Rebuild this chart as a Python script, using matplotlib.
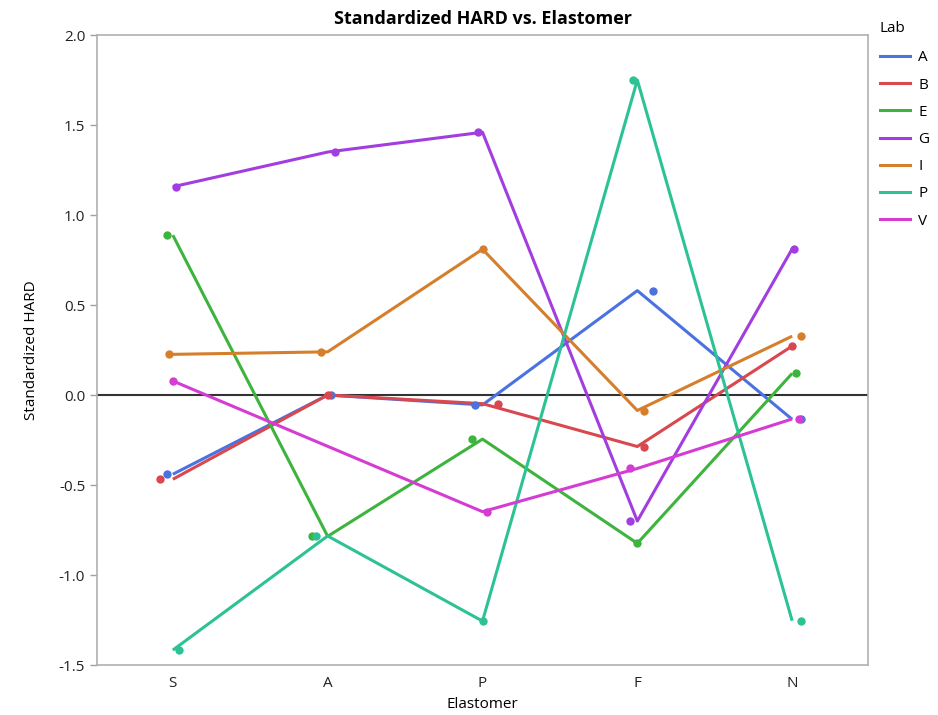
import numpy as np
import matplotlib
matplotlib.use("Agg")
import matplotlib.pyplot as plt
from matplotlib.lines import Line2D

elastomers = ["S", "A", "P", "F", "N"]
labs = ["A", "B", "E", "G", "I", "P", "V"]

lab_A = [-0.44, 0.00, -0.055, 0.58, -0.135]
lab_B = [-0.468, 0.00, -0.048, -0.286, 0.272]
lab_E = [0.888, -0.785, -0.245, -0.824, 0.12]
lab_G = [1.157, 1.35, 1.46, -0.70, 0.812]
lab_I = [0.226, 0.24, 0.81, -0.086, 0.327]
lab_P = [-1.417, -0.783, -1.256, 1.75, -1.254]
lab_V = [0.078, np.nan, -0.648, -0.408, -0.133]

values = [lab_A, lab_B, lab_E, lab_G, lab_I, lab_P, lab_V]

# horizontal jitter of the points (category units)
jit_A = [-0.04, 0.02, -0.05, 0.10, 0.06]
jit_B = [-0.08, 0.0, 0.10, 0.045, 0.0]
jit_E = [-0.04, -0.10, -0.065, 0.0, 0.025]
jit_G = [0.02, 0.05, -0.03, -0.045, 0.01]
jit_I = [-0.025, -0.045, 0.0, 0.04, 0.06]
jit_P = [0.04, -0.075, 0.0, -0.03, 0.06]
jit_V = [0.0, 0.0, 0.03, -0.045, 0.045]
jitters = [jit_A, jit_B, jit_E, jit_G, jit_I, jit_P, jit_V]

colors = ["#4A72E0", "#D9474F", "#3DB43D", "#A23DE0", "#D57F2C", "#2DC295", "#D43CD4"]

plt.rcParams['font.family'] = ['Open Sans', 'DejaVu Sans']

fig = plt.figure(figsize=(9.38, 7.15), dpi=100)
ax = fig.add_axes([0.1034, 0.0699, 0.8220, 0.8811])

x = np.arange(len(elastomers))
ax.axhline(0, color="#333333", lw=1.5, zorder=1)
for vals, jit, c in zip(values, jitters, colors):
    v = np.array(vals, dtype=float)
    m = ~np.isnan(v)
    ax.plot(x[m], v[m], color=c, lw=2.2, zorder=3, solid_capstyle='butt')
    ax.scatter(x[m] + np.array(jit)[m], v[m], s=36, color=c, zorder=4, linewidths=0)

ax.set_xlim(-0.49, 4.49)
ax.set_ylim(-1.5, 2.0)
ax.set_xticks(x)
ax.set_xticklabels(elastomers)
ax.set_yticks(np.arange(-1.5, 2.01, 0.5))
ax.set_yticklabels([f"{t:.1f}" for t in np.arange(-1.5, 2.01, 0.5)])
ax.tick_params(axis='both', labelsize=11, colors="#a0a0a0", labelcolor="#222222", length=5, width=1)
ax.tick_params(axis='x', length=0, pad=8)
for s in ax.spines.values():
    s.set_color("#b0b0b0")
    s.set_linewidth(1.2)

ax.set_title("Standardized HARD vs. Elastomer", fontsize=13, fontweight='bold', pad=8)
ax.set_xlabel("Elastomer", fontsize=11, labelpad=4)
ax.set_ylabel("Standardized HARD", fontsize=11, labelpad=14)

handles = [Line2D([0], [0], color=c, lw=2.2) for c in colors]
leg = fig.legend(handles, labs, title="Lab", loc='upper left', bbox_to_anchor=(0.938, 0.97),
                 frameon=False, fontsize=11, title_fontsize=11, handlelength=2.0,
                 handletextpad=0.5, labelspacing=0.8, borderpad=0, borderaxespad=0,
                 alignment='left')
leg._legend_box.sep = 10

fig.savefig("out.png", dpi=100)
